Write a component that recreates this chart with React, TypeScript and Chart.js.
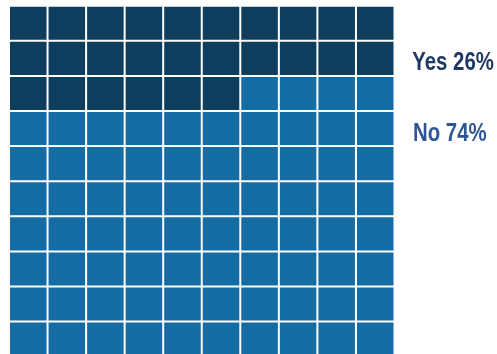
import React, { useEffect, useRef } from "react";
import { Chart, registerables } from "chart.js";

Chart.register(...registerables);

const columns = ["1", "2", "3", "4", "5", "6", "7", "8", "9", "10"];
const rowCount = 10;
const categories = ["Yes", "No"];
const percents = [26, 74];
const cellColors = ["#0e3d5e", "#146ca5"];
const labelColors = ["#1f3864", "#2f5597"];
const labelTexts = ["Yes 26%", "No 74%"];

export default function App() {
  const ref = useRef<HTMLCanvasElement | null>(null);

  useEffect(() => {
    const canvas = ref.current;
    if (!canvas) return;
    const yesCells = percents[0];
    const datasets = [];
    for (let k = 0; k < rowCount; k++) {
      const rowFromTop = rowCount - 1 - k;
      const colors = columns.map((_, c) =>
        rowFromTop * columns.length + c < yesCells ? cellColors[0] : cellColors[1]
      );
      datasets.push({
        label: "row" + rowFromTop,
        data: columns.map(() => 1),
        backgroundColor: colors,
        borderColor: "#ffffff",
        borderWidth: 1,
        borderSkipped: false as const,
        inflateAmount: 0,
        barPercentage: 1,
        categoryPercentage: 1,
      });
    }
    const condense = 0.815;
    const labelPlugin = {
      id: "waffleLabels",
      afterDraw(chart: any) {
        const ctx = chart.ctx;
        ctx.save();
        ctx.scale(condense, 1);
        ctx.font = 'bold 25px "Liberation Sans", Arial, sans-serif';
        ctx.textAlign = "left";
        ctx.textBaseline = "alphabetic";
        const baselines = [70, 141.3];
        const xs = [412.3, 413];
        categories.forEach((_, i) => {
          ctx.fillStyle = labelColors[i];
          ctx.fillText(labelTexts[i], xs[i] / condense, baselines[i]);
        });
        ctx.restore();
      },
    };
    const chart = new Chart(canvas, {
      type: "bar",
      data: { labels: columns, datasets },
      options: {
        responsive: false,
        animation: false,
        events: [],
        layout: { padding: { left: 9, right: 102.5, top: 5.7, bottom: 3.3 } },
        plugins: { legend: { display: false }, tooltip: { enabled: false } },
        scales: {
          x: { display: false, stacked: true },
          y: { display: false, stacked: true, min: 0, max: rowCount },
        },
      },
      plugins: [labelPlugin],
    });
    return () => chart.destroy();
  }, []);

  return (
    <div
      style={{
        position: "fixed",
        left: 0,
        top: 0,
        width: 497,
        height: 354,
        overflow: "hidden",
        background: "#fff",
      }}
    >
      <canvas ref={ref} width={497} height={360} style={{ display: "block" }} />
    </div>
  );
}
